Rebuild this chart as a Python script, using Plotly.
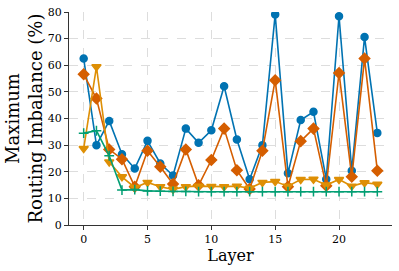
import plotly.graph_objects as go

layers = list(range(24))
blue = [62.5, 30.0, 39.1, 26.6, 21.2, 31.6, 23.1, 18.6, 36.2, 30.9, 35.6, 52.1,
        32.1, 17.2, 30.0, 79.1, 19.4, 39.4, 42.5, 17.2, 78.4, 20.4, 70.6, 34.6]
orange = [56.6, 47.5, 28.4, 24.7, 14.4, 27.9, 21.9, 15.4, 28.4, 14.9, 24.4, 36.2,
          20.6, 13.5, 27.9, 54.4, 14.4, 31.5, 36.2, 14.7, 57.1, 18.1, 62.5, 20.4]
yellow = [28.7, 59.4, 23.7, 18.1, 14.1, 16.0, 14.4, 13.4, 14.4, 14.6, 14.5, 14.4,
          14.6, 13.8, 16.0, 16.3, 14.6, 17.1, 17.2, 15.0, 17.1, 14.6, 15.9, 15.3]
green = [34.5, 35.4, 26.0, 13.1, 13.3, 12.8, 12.7, 12.6, 12.6, 12.5, 12.5, 12.5,
         12.5, 12.5, 12.5, 12.5, 12.5, 12.5, 12.5, 12.5, 12.5, 12.5, 12.5, 12.5]

x_ticks = [0, 5, 10, 15, 20]
y_ticks = [0, 10, 20, 30, 40, 50, 60, 70, 80]

fig = go.Figure()
series = [
    (blue, "#0173b2", "circle", 7),
    (orange, "#d55e00", "diamond", 8),
    (yellow, "#de8f05", "triangle-down", 8),
    (green, "#029e73", "cross-thin", 7),
]
for vals, col, sym, sz in series:
    fig.add_trace(go.Scatter(
        x=layers, y=vals, mode="lines+markers",
        line=dict(color=col, width=1.6),
        marker=dict(color=col, symbol=sym, size=sz,
                    line=dict(color=col, width=1.5)),
        showlegend=False,
    ))

font = "DejaVu Serif"
fig.update_layout(
    width=399, height=271,
    margin=dict(l=69, r=7, t=12, b=46),
    paper_bgcolor="white", plot_bgcolor="white",
    font=dict(family=font, color="black", size=11),
)
fig.update_xaxes(
    range=[-1.15, 24.15], tickvals=x_ticks, ticks="outside", ticklen=4,
    tickcolor="#333", showline=True, linecolor="#333", linewidth=1,
    showgrid=True, gridcolor="#dddddd", griddash="dash", gridwidth=0.8,
    zeroline=False, automargin=False, ticklabeloverflow="allow",
    title=dict(text="Layer", font=dict(size=16, family=font), standoff=2),
    tickfont=dict(size=11, family=font),
)
fig.update_yaxes(
    range=[0, 80], tickvals=y_ticks, ticks="outside", ticklen=4,
    tickcolor="#333", showline=True, linecolor="#333", linewidth=1,
    showgrid=True, gridcolor="#dddddd", griddash="dash", gridwidth=0.8,
    zeroline=False, automargin=False, ticklabeloverflow="allow",
    title=dict(text="Maximum<br>Routing Imbalance (%)", font=dict(size=18, family=font), standoff=0),
    tickfont=dict(size=11, family=font),
)
fig.write_html("out.html", config={"displayModeBar": False},
               post_script="document.body.style.margin='0';")
